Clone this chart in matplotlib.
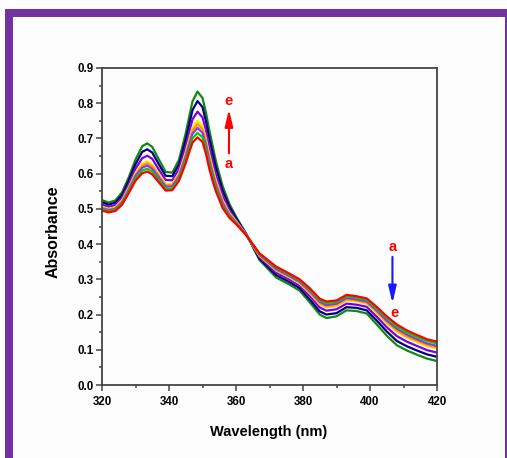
import matplotlib
matplotlib.use("Agg")
import matplotlib.pyplot as plt
from matplotlib.patches import Rectangle
from matplotlib.ticker import MultipleLocator

plt.rcParams['font.family'] = ['Liberation Sans', 'DejaVu Sans']

wavelength = [320, 322, 324, 326, 328, 330, 332, 333.5, 335, 337, 339, 341, 343, 345, 346, 347, 348.5,
              350, 351, 352, 353, 354, 356, 358, 360, 363, 367, 372, 376, 379, 382, 385, 387, 390, 393,
              396, 399, 402, 405, 408, 411, 414, 417, 420]

abs_a_red = [.495, .490, .494, .512, .545, .580, .601, .606, .598, .575, .552, .553, .580, .630, .660, .688, .703,
             .690, .658, .615, .580, .550, .503, .475, .457, .426, .374, .336, .316, .300, .275, .245, .237, .240, .256,
             .252, .246, .222, .195, .172, .155, .142, .130, .123]
abs_lime = [.498, .493, .497, .516, .550, .586, .609, .614, .606, .582, .557, .558, .586, .639, .670, .700, .716,
            .703, .670, .626, .590, .559, .509, .479, .459, .426, .372, .333, .313, .297, .271, .241, .232, .236, .252,
            .248, .242, .217, .190, .166, .149, .136, .125, .118]
abs_purple = [.501, .496, .500, .519, .554, .593, .617, .623, .614, .589, .563, .564, .593, .648, .681, .713, .730,
              .716, .683, .638, .601, .568, .516, .483, .461, .427, .370, .329, .309, .293, .267, .236, .227, .231, .247,
              .243, .237, .212, .183, .160, .143, .130, .118, .111]
abs_orange = [.504, .498, .503, .522, .558, .597, .623, .629, .621, .594, .567, .568, .597, .655, .689, .722, .741,
              .726, .692, .647, .609, .575, .521, .487, .463, .427, .368, .327, .307, .291, .263, .232, .223, .227, .243,
              .240, .234, .208, .179, .155, .138, .126, .114, .107]
abs_yellow = [.506, .500, .505, .525, .561, .602, .629, .635, .626, .598, .571, .571, .602, .661, .696, .730, .750,
              .735, .700, .655, .616, .581, .525, .489, .465, .427, .367, .325, .305, .288, .261, .229, .220, .224, .240,
              .237, .231, .204, .175, .151, .134, .122, .110, .103]
abs_violet = [.512, .506, .511, .532, .570, .614, .644, .651, .642, .611, .582, .581, .614, .678, .716, .754, .776,
              .760, .724, .677, .636, .598, .538, .497, .469, .428, .363, .319, .299, .282, .253, .220, .211, .215, .231,
              .228, .222, .194, .164, .139, .123, .111, .099, .092]
abs_navy = [.519, .512, .518, .540, .581, .627, .662, .669, .660, .626, .594, .593, .627, .697, .739, .780, .806,
            .789, .750, .702, .659, .617, .552, .507, .474, .429, .359, .312, .292, .275, .243, .209, .200, .204, .221,
            .219, .212, .183, .152, .125, .110, .098, .087, .080]
abs_e_dkgreen = [.525, .518, .524, .547, .590, .640, .678, .686, .676, .640, .605, .603, .640, .715, .760, .805, .833,
                 .815, .775, .725, .680, .635, .565, .515, .478, .430, .355, .305, .285, .268, .235, .200, .190, .195, .212,
                 .210, .203, .172, .140, .113, .098, .086, .075, .068]

series = [abs_a_red, abs_lime, abs_purple, abs_orange, abs_yellow, abs_violet, abs_navy, abs_e_dkgreen]
colors = ['#ff0000', '#00d000', '#9a30ff', '#ff9900', '#ffe600', '#7a00e6', '#000080', '#118811']

fig = plt.figure(figsize=(5.07, 4.58), dpi=100)
fig.patch.set_facecolor('white')
purple = '#7332a0'
fig.patches.append(Rectangle((5/507, 0), 502/507, 449/458, transform=fig.transFigure,
                             facecolor=purple, edgecolor='none', zorder=-10))
fig.patches.append(Rectangle((13/507, 0), 492/507, 441/458, transform=fig.transFigure,
                             facecolor='#fdfdfd', edgecolor='none', zorder=-9))

ax = fig.add_axes([102/507, 73/458, 335/507, 317/458])
ax.set_zorder(5)
ax.set_facecolor('none')
for vals, c in reversed(list(zip(series, colors))):
    ax.plot(wavelength, vals, color=c, lw=1.6, solid_joinstyle='round', solid_capstyle='round')

ax.set_xlim(320, 420)
ax.set_ylim(0.0, 0.9)
ax.xaxis.set_major_locator(MultipleLocator(20))
ax.xaxis.set_minor_locator(MultipleLocator(10))
ax.yaxis.set_minor_locator(MultipleLocator(0.05))
ax.set_yticks([i / 10 for i in range(10)])
ax.set_yticklabels([f'{i / 10:.1f}' for i in range(10)])
for sp in ax.spines.values():
    sp.set_color('#444444')
    sp.set_linewidth(1.3)
ax.tick_params(which='both', direction='out', color='#444444', width=1.1, top=False, right=False)
ax.tick_params(which='major', length=4, labelsize=8.3)
ax.tick_params(axis='x', which='major', pad=4)
ax.tick_params(axis='y', which='major', pad=2)
ax.tick_params(which='minor', length=2.5)
for lab in ax.get_xticklabels() + ax.get_yticklabels():
    lab.set_fontweight('bold')

ax.set_xlabel('Wavelength (nm)', fontsize=10.5, fontweight='bold')
ax.xaxis.set_label_coords(0.4985, -0.148)
ax.xaxis.label.set_va('center')
ax.set_ylabel('Absorbance', fontsize=11.5, fontweight='bold')
ax.yaxis.set_label_coords(-0.146, 0.483)
ax.yaxis.label.set_va('center')

# arrows and labels
ax.annotate('', xy=(357.9, 0.783), xytext=(357.9, 0.658),
            arrowprops=dict(arrowstyle='-|>,head_length=0.85,head_width=0.2', color='#ff0000',
                            lw=1.5, mutation_scale=12, shrinkA=0, shrinkB=0))
ax.text(357.9, 0.805, 'e', color='#ff0000', fontsize=10.5, fontweight='bold', ha='center', va='center')
ax.text(357.9, 0.628, 'a', color='#ff0000', fontsize=10.5, fontweight='bold', ha='center', va='center')

ax.annotate('', xy=(406.7, 0.232), xytext=(406.7, 0.364),
            arrowprops=dict(arrowstyle='-|>,head_length=0.85,head_width=0.2', color='#1a1aff',
                            lw=1.5, mutation_scale=12, shrinkA=0, shrinkB=0))
ax.text(406.7, 0.393, 'a', color='#ff0000', fontsize=10.5, fontweight='bold', ha='center', va='center')
ax.text(407.2, 0.204, 'e', color='#ff0000', fontsize=10.5, fontweight='bold', ha='center', va='center')

fig.savefig('out.png', dpi=100)
